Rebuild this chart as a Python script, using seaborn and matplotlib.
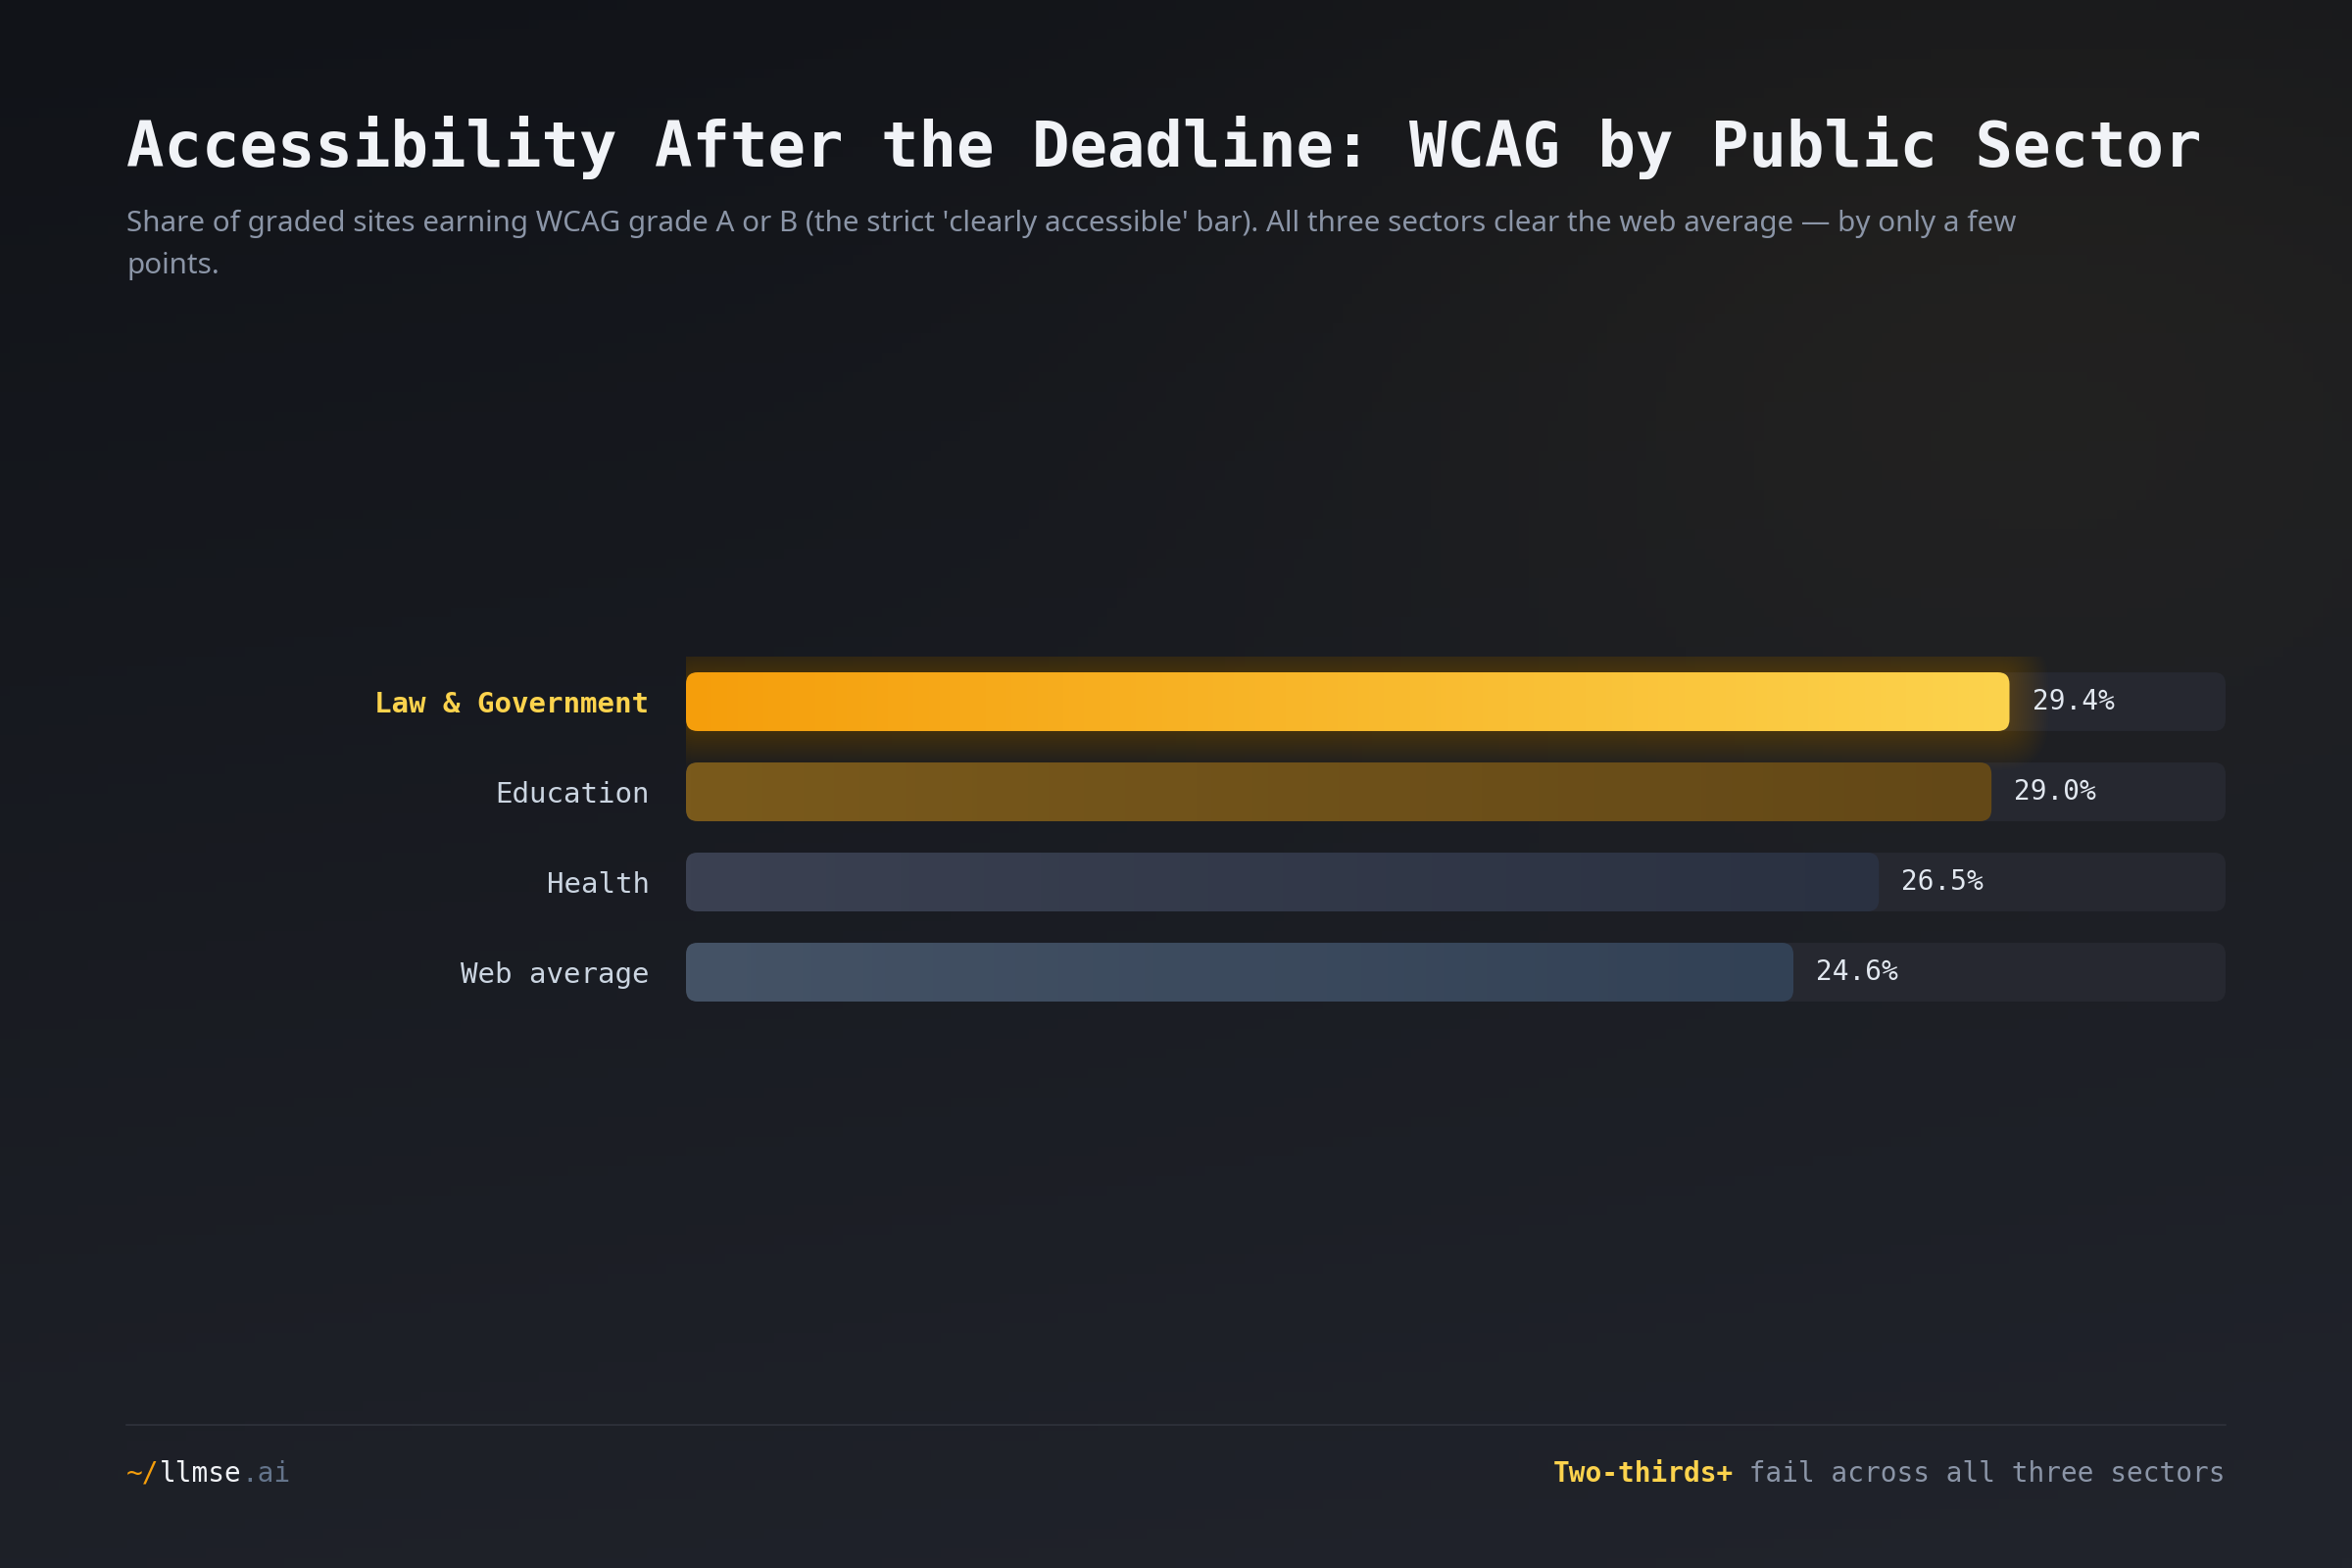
import numpy as np
import pandas as pd
import seaborn as sns
import matplotlib.pyplot as plt
from matplotlib.patches import FancyBboxPatch
from matplotlib.lines import Line2D
from matplotlib.colors import to_rgb

# data
sectors = ["Law & Government", "Education", "Health", "Web average"]
share_ab = [29.4, 29.0, 26.5, 24.6]
x_max = 34.2  # scale limit of the track

title = "Accessibility After the Deadline: WCAG by Public Sector"
subtitle = ("Share of graded sites earning WCAG grade A or B (the strict 'clearly accessible' bar). "
            "All three sectors clear the web average \u2014 by only a few\npoints.")

# colours (left -> right gradient per bar)
bar_cols = [("#f59e0b", "#fcd34d"), ("#7a5a1c", "#634817"),
            ("#3b4152", "#2a3141"), ("#455366", "#324155")]
label_cols = ["#fcd34d", "#cbd5e1", "#cbd5e1", "#cbd5e1"]
track_col = "#262830"
mono = "DejaVu Sans Mono"

sns.set_theme(style="dark")
plt.rcParams["font.family"] = ["DejaVu Sans"]

W, H = 2400, 1600
fig = plt.figure(figsize=(24, 16), dpi=100)

# background gradient
bg = fig.add_axes([0, 0, 1, 1], zorder=-5)
yy, xx = np.mgrid[0:1:160j, 0:1:240j]
c0 = np.array([17, 19, 24]) / 255
c1 = np.array([33, 36, 44]) / 255
t = np.clip(0.8 * yy + 0.2 * xx, 0, 1)[..., None]
img = c0 * (1 - t) + c1 * t
warm = np.exp(-(((xx - 0.85) / 0.3) ** 2 + ((yy - 0.2) / 0.3) ** 2))[..., None]
img = img + warm * (np.array([11, 8, 1]) / 255)
bg.imshow(np.clip(img, 0, 1), aspect="auto", extent=[0, 1, 0, 1], origin="upper")
bg.set_axis_off()

# main bar axes
left, right = 700, 2271
top, bot = 670, 1038
ax = fig.add_axes([left / W, 1 - bot / H, (right - left) / W, (bot - top) / H])
ax.set_facecolor("none")

df = pd.DataFrame({"sector": sectors, "share": share_ab})
sns.barplot(data=df, x="share", y="sector", orient="h", width=0.652, ax=ax)
ax.set_xlim(0, x_max)
ax.set_ylim(len(sectors) - 0.5, -0.5)

px_x = x_max / (right - left)
px_y = len(sectors) / (bot - top)


def rbox(x, y, w, h, r_px, **kw):
    return FancyBboxPatch((x, y), w, h,
                          boxstyle=f"round,pad=0,rounding_size={r_px * px_x}",
                          mutation_aspect=px_y / px_x, **kw)


bars = list(ax.patches)
for i, p in enumerate(bars):
    p.set_visible(False)
    x0, y0, w, h = p.get_x(), p.get_y(), p.get_width(), p.get_height()
    # track
    ax.add_patch(rbox(0, y0, x_max, h, 12, facecolor=track_col, edgecolor="none", zorder=1))
    # soft glow for the highlighted bar
    if i == 0:
        for k in range(2, 42, 2):
            ax.add_patch(rbox(x0 - k * px_x, y0 - k * px_y, w + 2 * k * px_x, h + 2 * k * px_y,
                              12 + k, facecolor="#f5a00b", edgecolor="none",
                              alpha=0.012, zorder=1.5))
    clip = rbox(x0, y0, w, h, 12, facecolor="none", edgecolor="none", zorder=2)
    ax.add_patch(clip)
    ca = np.array(to_rgb(bar_cols[i][0]))
    cb = np.array(to_rgb(bar_cols[i][1]))
    s = np.linspace(0, 1, 256)[:, None]
    grad = (ca * (1 - s) + cb * s)[None, :, :]
    im = ax.imshow(grad, extent=[x0, x0 + w, y0 + h, y0], aspect="auto", zorder=2)
    im.set_clip_path(clip)
    ax.text(x0 + w + 23 * px_x, y0 + h / 2, f"{share_ab[i]:.1f}%", va="center", ha="left",
            fontsize=20, family=mono, color="#e2e8f0", zorder=3)

ax.set_xlim(0, x_max)
ax.set_ylim(len(sectors) - 0.5, -0.5)
ax.set_xlabel("")
ax.set_ylabel("")
ax.set_xticks([])
ax.tick_params(axis="y", length=0, pad=27)
ax.set_yticks(range(len(sectors)))
ax.set_yticklabels(sectors)
for j, (lab, c) in enumerate(zip(ax.get_yticklabels(), label_cols)):
    lab.set_family(mono)
    lab.set_fontsize(21)
    lab.set_color(c)
    if j == 0:
        lab.set_fontweight("bold")
ax.grid(False)
for sp in ax.spines.values():
    sp.set_visible(False)

# title + subtitle
fig.text(129 / W, 1 - 170 / H, title, fontsize=46, fontweight="bold", family=mono,
         color="#f1f3f7", va="baseline", ha="left")
fig.text(129 / W, 1 - 214 / H, subtitle, fontsize=21.3, family="Noto Sans", color="#8b95a7",
         va="top", ha="left", linespacing=1.65)

# footer
fig.add_artist(Line2D([129 / W, 2271 / W], [1 - 1454 / H] * 2, color="#2c2f38", lw=1.5))
fy = 1 - 1512 / H
t1 = fig.text(129 / W, fy, "~/", fontsize=20, family=mono, color="#f59e0b", va="baseline")
a2 = fig.add_artist(plt.Annotation("llmse", xy=(1, 0), xycoords=t1, va="bottom", ha="left",
                                   fontsize=20, family=mono, color="#f1f3f7"))
fig.add_artist(plt.Annotation(".ai", xy=(1, 0), xycoords=a2, va="bottom", ha="left",
                              fontsize=20, family=mono, color="#64748b"))
r1 = fig.text(2271 / W, fy, " fail across all three sectors", fontsize=20, family=mono,
              color="#8b95a7", va="baseline", ha="right")
fig.add_artist(plt.Annotation("Two-thirds+", xy=(0, 0), xycoords=r1, va="bottom", ha="right",
                              fontsize=20, family=mono, fontweight="bold", color="#fcd34d"))

fig.savefig("out.png", dpi=100, facecolor="#16181d")
